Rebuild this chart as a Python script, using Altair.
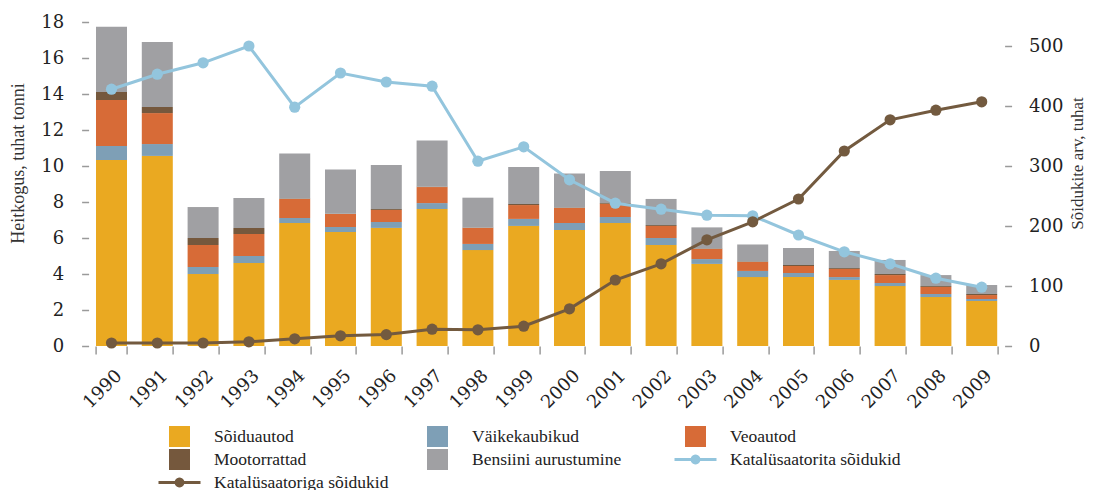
import math
import altair as alt
import pandas as pd

years = [str(y) for y in range(1990, 2010)]

bar_series = ["Sõiduautod", "Väikekaubikud", "Veoautod", "Mootorrattad", "Bensiini aurustumine"]
line_series = ["Katalüsaatorita sõidukid", "Katalüsaatoriga sõidukid"]

soiduautod = [10.33, 10.56, 4.0, 4.61, 6.83, 6.33, 6.56, 7.61, 5.33, 6.67,
              6.44, 6.83, 5.61, 4.56, 3.83, 3.83, 3.67, 3.33, 2.72, 2.5]
vaikekaubikud = [0.78, 0.66, 0.39, 0.39, 0.28, 0.28, 0.33, 0.33, 0.34, 0.39,
                 0.39, 0.34, 0.39, 0.27, 0.34, 0.23, 0.16, 0.17, 0.17, 0.11]
veoautod = [2.56, 1.72, 1.22, 1.22, 1.06, 0.72, 0.67, 0.89, 0.89, 0.77,
            0.84, 0.73, 0.67, 0.56, 0.5, 0.38, 0.45, 0.44, 0.39, 0.22]
mootorrattad = [0.44, 0.34, 0.39, 0.34, 0.02, 0.02, 0.05, 0.02, 0.02, 0.06,
                0.02, 0.04, 0.05, 0.03, 0.03, 0.06, 0.05, 0.06, 0.05, 0.06]
bensiini = [3.63, 3.61, 1.72, 1.66, 2.5, 2.45, 2.45, 2.56, 1.66, 2.05,
            1.89, 1.78, 1.45, 1.17, 0.94, 0.94, 0.95, 0.78, 0.61, 0.5]

katalusaatorita = [428, 453, 472, 500, 398, 455, 440, 433, 308, 332,
                   277, 238, 228, 218, 217, 185, 157, 137, 113, 98]
katalusaatoriga = [5, 5, 5, 7, 12, 17, 19, 28, 27, 33,
                   62, 110, 137, 177, 207, 245, 325, 377, 393, 407]

colors = ["#EAA921", "#7E9FB6", "#D76B37", "#75583D", "#A0A0A3", "#93C5DD", "#735A3F"]

bar_rows = []
for i, (name, vals) in enumerate(zip(bar_series, [soiduautod, vaikekaubikud, veoautod, mootorrattad, bensiini])):
    for y, v in zip(years, vals):
        bar_rows.append({"year": y, "series": name, "value": v, "order": i})
df_bars = pd.DataFrame(bar_rows)

line_rows = []
for name, vals in zip(line_series, [katalusaatorita, katalusaatoriga]):
    for y, v in zip(years, vals):
        line_rows.append({"year": y, "series": name, "value": v})
df_lines = pd.DataFrame(line_rows)

all_series = bar_series + line_series
color_scale = alt.Scale(domain=all_series, range=colors)

# legend glyph for the line series: a thin bar with a dot (polygon circle, clockwise)
_circ = " ".join(
    ("M" if k == 0 else "L") + f"{0.47 * math.cos(2 * math.pi * k / 24):.3f},{0.47 * math.sin(2 * math.pi * k / 24):.3f}"
    for k in range(24)
) + " Z"
line_sym = "M-2,-0.14 L2,-0.14 L2,0.14 L-2,0.14 Z " + _circ
shape_scale = alt.Scale(domain=all_series, range=["square"] * 5 + [line_sym, line_sym])

TXT = "Liberation Serif"
NUM = "DejaVu Serif"

legend = alt.Legend(title=None, orient="none", legendX=80.4, legendY=404, columns=3,
                    direction="horizontal", gridAlign="all",
                    symbolSize=441, symbolStrokeWidth=0, symbolOpacity=1,
                    labelFont=TXT, labelFontSize=17.5, labelColor="#222222",
                    labelOffset=24, columnPadding=27, rowPadding=2, padding=0,
                    labelLimit=400)

x_enc = alt.X(
    "year:O",
    scale=alt.Scale(paddingInner=0.323, paddingOuter=0.1615),
    axis=alt.Axis(title=None, labelAngle=315, labelAlign="center", labelBaseline="middle",
                  labelPadding=35, labelOffset=-9, tickSize=8, tickBand="extent",
                  tickColor="#9a9a9a", tickWidth=1.5, domain=False,
                  labelFont=NUM, labelFontSize=18, labelColor="#222222"),
)

bars = alt.Chart(df_bars).mark_bar().encode(
    x=x_enc,
    y=alt.Y("value:Q", stack="zero", scale=alt.Scale(domain=[0, 18], nice=False),
            axis=alt.Axis(values=list(range(0, 19, 2)), tickSize=7, tickColor="#9a9a9a",
                          tickWidth=1.5, domain=False, grid=False,
                          labelFont=NUM, labelFontSize=18, labelPadding=18, labelColor="#222222",
                          title="Heitkogus, tuhat tonni", titleFont=TXT, titleFontSize=18,
                          titleFontWeight="normal", titleColor="#333333",
                          titleX=-70, titleY=141, titleAngle=270,
                          titleBaseline="middle", titleAlign="center")),
    color=alt.Color("series:N", scale=color_scale, legend=legend),
    order=alt.Order("order:Q"),
)

y_right = alt.Y("value:Q", scale=alt.Scale(domain=[0, 540], nice=False),
                axis=alt.Axis(orient="right", values=list(range(0, 501, 100)), tickSize=7,
                              tickColor="#9a9a9a", tickWidth=1.5, domain=False, grid=False,
                              labelFont=NUM, labelFontSize=18, labelPadding=17, labelColor="#222222",
                              title="Sõidukite arv, tuhat", titleFont=TXT, titleFontSize=17,
                              titleFontWeight="normal", titleColor="#333333",
                              titleX=73, titleY=141, titleAngle=270,
                              titleBaseline="middle", titleAlign="center"))

lines = alt.Chart(df_lines).mark_line(strokeWidth=3).encode(
    x=x_enc, y=y_right,
    color=alt.Color("series:N", scale=color_scale),
)

points = alt.Chart(df_lines).mark_point(filled=True, size=125, opacity=1).encode(
    x=x_enc, y=y_right,
    color=alt.Color("series:N", scale=color_scale),
)

key = alt.Chart(df_lines).transform_filter("false").mark_point(filled=True, size=441, opacity=1).encode(
    x=x_enc,
    color=alt.Color("series:N", scale=color_scale, legend=legend),
    shape=alt.Shape("series:N", scale=shape_scale, legend=legend),
)

right = alt.layer(lines, points, key)

chart = alt.layer(bars, right).resolve_scale(y="independent").properties(
    width=916, height=324,
    autosize=alt.AutoSizeParams(type="none"),
    padding={"left": 80.6, "top": 14, "right": 83.4, "bottom": 144},
    background="white",
).configure_view(stroke=None)

chart.save("out.html", embed_options={"renderer": "svg", "actions": False})
